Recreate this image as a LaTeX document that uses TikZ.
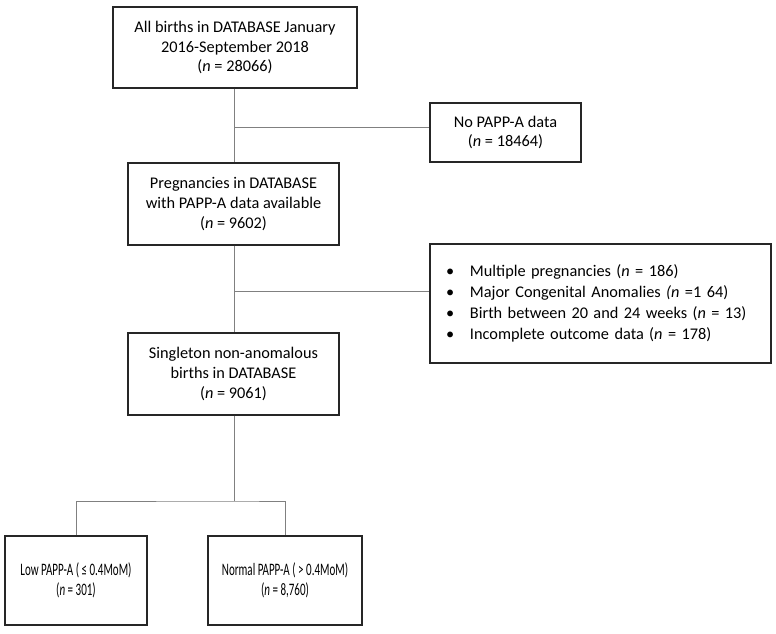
\documentclass[tikz,border=0pt]{standalone}
\usepackage{fontspec}
\setmainfont{Carlito}
\newfontfamily\narrowfont[FakeStretch=0.63]{Carlito}
\begin{document}
\begin{tikzpicture}[x=1pt,y=-1pt,
  box/.style={draw=black!85, line width=1.1pt, rectangle, align=center, inner sep=2pt,
    font=\fontsize{16.3}{19.8}\selectfont},
  conn/.style={draw=black!50, line width=0.8pt}]
\useasboundingbox[fill=white] (0,0) rectangle (776,634);
\node[box, minimum width=244, minimum height=81] (all) at (235,47.5)
  {All births in DATABASE January\\2016-September 2018\\(\textit{n} = 28066)};
\node[box, minimum width=151, minimum height=59] (nopa) at (505.5,132.5)
  {No PAPP-A data\\(\textit{n} = 18464)};
\node[box, minimum width=211, minimum height=82] (preg) at (233.5,204)
  {Pregnancies in DATABASE\\with PAPP-A data available\\(\textit{n} = 9602)};
\node[box, minimum width=341, minimum height=119, text width=309, inner xsep=16, align=left,
  font=\fontsize{16.3}{21.2}\selectfont] (excl) at (600.5,303.5)
  {\makebox[24pt][l]{\textbullet}Multiple pregnancies (\textit{n} = 186)\\
   \makebox[24pt][l]{\textbullet}Major Congenital Anomalies \textit{(n} =1 64)\\
   \makebox[24pt][l]{\textbullet}Birth between 20 and 24 weeks (\textit{n} = 13)\\
   \makebox[24pt][l]{\textbullet}Incomplete outcome data (\textit{n} = 178)};
\node[box, minimum width=211, minimum height=82] (sing) at (233.5,374)
  {Singleton non-anomalous\\births in DATABASE\\(\textit{n} = 9061)};
\node[box, minimum width=142, minimum height=89, font=\narrowfont\fontsize{17.5}{19.5}\selectfont] (low) at (76,580.5)
  {Low PAPP-A ( ≤ 0.4MoM)\\(\textit{n} = 301)};
\node[box, minimum width=154, minimum height=89, font=\narrowfont\fontsize{17.5}{19.5}\selectfont] (norm) at (285,580.5)
  {Normal PAPP-A ( > 0.4MoM)\\(\textit{n} = 8,760)};
\coordinate (j1) at (234,127);
\coordinate (j2) at (234,291);
\coordinate (j3) at (234,501);
\draw[conn] (all.south -| j1) -- (preg.north -| j1);
\draw[conn] (j1) -- (nopa.west |- j1);
\draw[conn] (preg.south -| j2) -- (sing.north -| j2);
\draw[conn] (j2) -- (excl.west |- j2);
\draw[conn] (sing.south -| j3) -- (j3);
\draw[conn] (low.north) |- (j3) -| (norm.north);
\end{tikzpicture}
\end{document}
